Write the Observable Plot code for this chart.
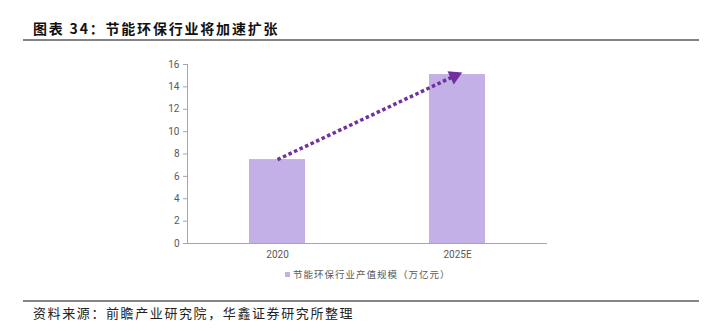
<!DOCTYPE html>
<html><head><meta charset="utf-8">
<script src="https://cdn.jsdelivr.net/npm/d3@7"></script>
<script src="https://cdn.jsdelivr.net/npm/@observablehq/plot@0.6"></script>
<style>
body{margin:0;background:#fff;width:717px;height:331px;position:relative;overflow:hidden;font-family:"Noto Sans CJK SC",sans-serif;}
#title{position:absolute;left:33px;top:18px;font-size:14px;font-weight:bold;color:#111;letter-spacing:1.8px;white-space:nowrap;}
.rule{position:absolute;left:23px;width:676px;height:2px;background:#858585;}
#chart{position:absolute;left:0;top:50px;}
#legend{position:absolute;left:285px;top:267px;font-size:9.5px;color:#595959;letter-spacing:1px;white-space:nowrap;display:flex;align-items:center;}
#legend .sw{width:5px;height:5px;margin-right:3px;}
#source{position:absolute;left:33px;top:303px;font-size:13px;color:#222;letter-spacing:1.6px;white-space:nowrap;}
</style></head>
<body>
<div id="title">图表 34：节能环保行业将加速扩张</div>
<div class="rule" style="top:39px"></div>
<div id="chart"></div>
<div id="legend"></div>
<div class="rule" style="top:300px"></div>
<div id="source">资料来源：前瞻产业研究院，华鑫证券研究所整理</div>
<script>
const categories = ["2020", "2025E"];
const values = [7.5, 15.1];
const yTicks = [0, 2, 4, 6, 8, 10, 12, 14, 16];
const seriesName = "节能环保行业产值规模（万亿元）";
const trendFrom = {x: "2020", y: 7.5};
const trendTo = {x: "2025E", y: 15.1};

const barColor = "#C2B0E6";
const arrowColor = "#7030A0";
const axisColor = "#A6A6A6";
const data = categories.map((c, i) => ({cat: c, value: values[i]}));

const chart = Plot.plot({
  width: 717,
  height: 215,
  marginTop: 14,
  marginBottom: 22,
  marginLeft: 187,
  marginRight: 170,
  style: {fontFamily: "Roboto, 'Liberation Sans', sans-serif", fontSize: "10px", color: "#595959", background: "transparent"},
  x: {domain: categories, paddingInner: 0.69, paddingOuter: 0.345},
  y: {domain: [0, 16]},
  marks: [
    Plot.barY(data, {x: "cat", y: "value", fill: barColor}),
    Plot.axisY({ticks: yTicks, label: null, tickSize: 4, tickPadding: 4, tickFormat: d => String(d), stroke: axisColor, fill: "#595959"}),
    Plot.axisX({label: null, tickSize: 0, tickPadding: 7, fill: "#595959"}),
    Plot.frame({anchor: "left", stroke: axisColor}),
    Plot.ruleY([0], {stroke: axisColor, strokeWidth: 1}),
    Plot.link([{a: trendFrom, b: trendTo}], {
      x1: d => d.a.x, y1: d => d.a.y, x2: d => d.b.x, y2: d => d.b.y,
      stroke: arrowColor, strokeWidth: 3.5, strokeDasharray: "3.5,2.6"
    }),
    Plot.dot([trendTo], {x: "x", y: "y", symbol: "triangle", r: 5.5, fill: arrowColor, stroke: "none", rotate: 65, dx: -3, dy: 1.5})
  ]
});
document.getElementById("chart").appendChild(chart);

// legend
const lg = document.getElementById("legend");
const sw = document.createElement("span"); sw.className = "sw"; sw.style.background = barColor;
const tx = document.createElement("span"); tx.textContent = seriesName;
lg.appendChild(sw); lg.appendChild(tx);
</script>
</body></html>
